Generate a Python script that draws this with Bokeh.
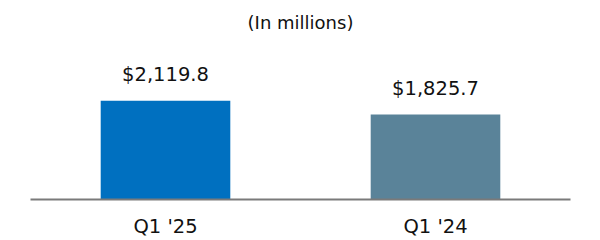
from bokeh.plotting import figure
from bokeh.models import ColumnDataSource, Range1d, FactorRange
from bokeh.core.properties import value
from bokeh.embed import file_html
from bokeh.resources import INLINE

categories = ["Q1 '25", "Q1 '24"]
values = [2119.8, 1825.7]
labels = ["$2,119.8", "$1,825.7"]
colors = ["#0070C0", "#5A8399"]

FONT = "DejaVu Sans"

src = ColumnDataSource(dict(cat=categories, val=values, lab=labels, col=colors))

frame_top = 40
frame_bottom = 200
px_per_unit = 100 / 2119.8
y_end = (frame_bottom - frame_top) / px_per_unit

p = figure(width=600, height=240, x_range=FactorRange(factors=categories, range_padding=0),
           y_range=Range1d(0, y_end), output_backend="svg", toolbar_location=None,
           title="(In millions)")
p.min_border_left = 30
p.min_border_right = 30
p.min_border_top = frame_top
p.min_border_bottom = 40

p.title.align = "center"
p.title.text_font = FONT
p.title.text_font_size = "18px"
p.title.text_font_style = "normal"
p.title.text_color = "#111111"
p.title.standoff = 18

p.vbar(x="cat", top="val", width=0.48, color="col", source=src, line_color=None)
p.text(x="cat", y="val", text="lab", source=src, text_align="center",
       text_baseline="alphabetic", y_offset=-26, text_font=value(FONT),
       text_font_size="19.5px", text_color="#111111")

p.yaxis.visible = False
p.xgrid.visible = False
p.ygrid.visible = False
p.outline_line_color = None
p.xaxis.axis_line_color = "#7a7a7a"
p.xaxis.axis_line_width = 2
p.xaxis.major_tick_line_color = None
p.xaxis.minor_tick_line_color = None
p.xaxis.major_tick_out = 0
p.xaxis.major_tick_in = 0
p.xaxis.major_label_text_font = FONT
p.xaxis.major_label_text_font_size = "19.5px"
p.xaxis.major_label_text_color = "#111111"
p.xaxis.major_label_standoff = 15

open("out.html", "w").write(file_html(p, INLINE))
